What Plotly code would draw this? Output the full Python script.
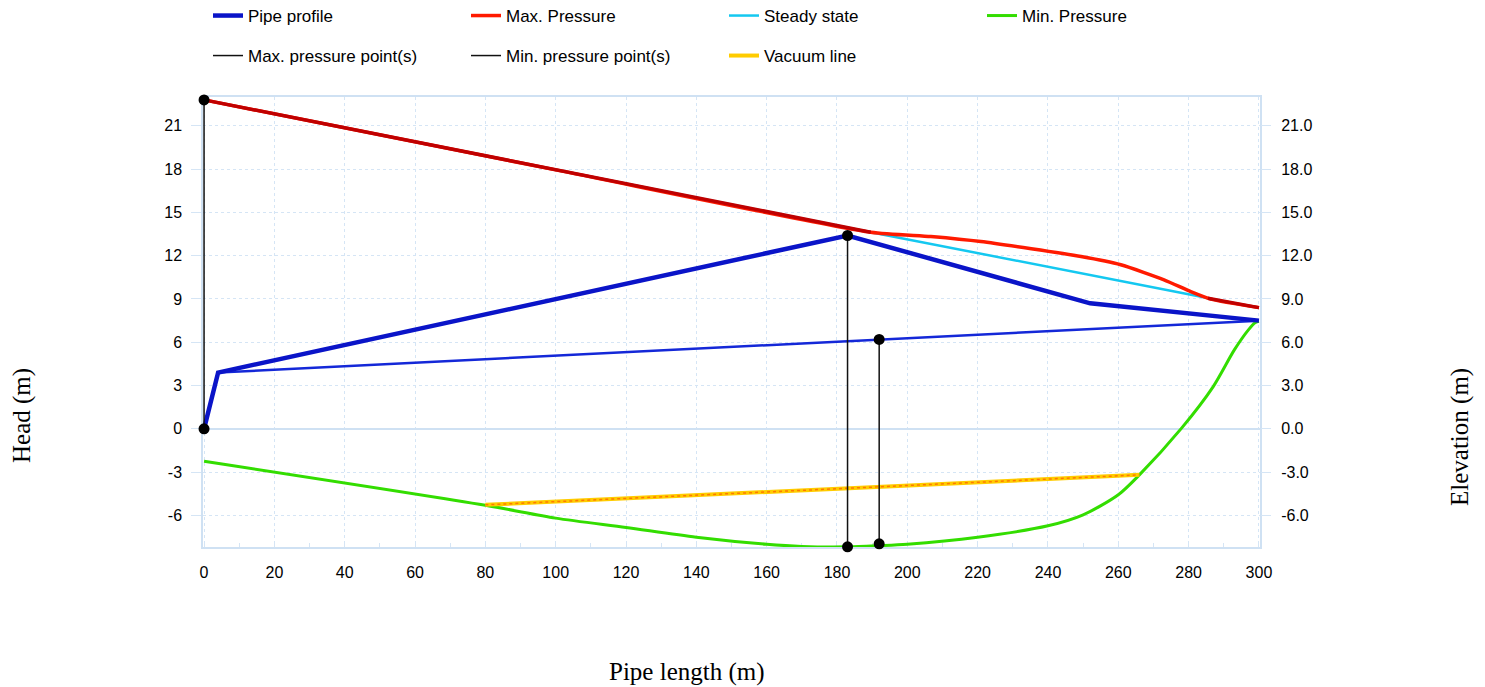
import plotly.graph_objects as go

# ---------------- data ----------------
pipe_x = [0, 4, 183, 252, 300]
pipe_y = [0.0, 3.9, 13.4, 8.7, 7.5]

pipe2_x = [4, 192, 300]
pipe2_y = [3.9, 6.2, 7.5]

maxp_x = [0, 100, 189.6, 206.7, 220.9, 249.4, 260.7, 273.0, 280.6, 286.3, 300]
maxp_y = [22.8, 17.95, 13.63, 13.33, 12.98, 11.94, 11.37, 10.33, 9.51, 8.99, 8.4]

steady_x = [0, 189.6, 284.3, 286.3, 300]
steady_y = [22.8, 13.63, 9.12, 8.99, 8.4]

# portions where steady state and max pressure coincide
overlap_x = [0, 189.6, None, 285.5, 300]
overlap_y = [22.8, 13.63, None, 9.05, 8.4]

minp_x = [0, 80, 100, 120, 140, 160, 170, 183, 192, 200, 220, 240, 250, 260, 266, 278, 287, 293, 297, 299, 300]
minp_y = [-2.25, -5.3, -6.19, -6.84, -7.51, -8.0, -8.15, -8.18, -8.1, -8.0, -7.51, -6.72, -5.96, -4.57, -3.19, 0.05, 2.93, 5.47, 6.86, 7.37, 7.45]

vac_x = [80, 183, 266]
vac_y = [-5.27, -4.1, -3.19]

maxpt_x = [0, 0]
maxpt_y = [22.8, 0.0]

minpt_x = [183, 183, None, 192, 192]
minpt_y = [13.4, -8.18, None, 6.2, -7.97]

x_ticks = list(range(0, 301, 20))
x_ticklabels = [str(v) for v in x_ticks]
y_ticks = [-6, -3, 0, 3, 6, 9, 12, 15, 18, 21]
y_left_labels = ["-6", "-3", "0", "3", "6", "9", "12", "15", "18", "21"]
y_right_labels = ["-6.0", "-3.0", "0.0", "3.0", "6.0", "9.0", "12.0", "15.0", "18.0", "21.0"]

# ---------------- styling ----------------
W, H = 1485, 687
OFF = 8  # page offset of the figure in the browser
L, T = 203 - OFF, 97 - OFF
PW, PH = 1057, 450
GRID = "#d5e5f5"
FRAME = "#cfe1f3"
TICKFONT = dict(family="Liberation Sans, Arial, sans-serif", size=16, color="#000000")
TITLEFONT = dict(family="Liberation Serif, Times New Roman, serif", size=25, color="#000000")
LEGFONT = dict(family="Liberation Sans, Arial, sans-serif", size=17, color="#000000")

fig = go.Figure()

fig.add_trace(go.Scatter(x=pipe2_x, y=pipe2_y, mode="lines",
                         line=dict(color="#1428d8", width=2.5), showlegend=False, hoverinfo="skip"))

fig.add_trace(go.Scatter(x=steady_x, y=steady_y, mode="lines", name="Steady state",
                         line=dict(color="#14c8f0", width=2.5), legend="legend", legendrank=3))

fig.add_trace(go.Scatter(x=maxp_x, y=maxp_y, mode="lines", name="Max. Pressure",
                         line=dict(color="#ff1a00", width=3.5, shape="spline", smoothing=0.6),
                         legend="legend", legendrank=2))

fig.add_trace(go.Scatter(x=overlap_x, y=overlap_y, mode="lines",
                         line=dict(color="#c00000", width=3.5), showlegend=False, hoverinfo="skip"))

fig.add_trace(go.Scatter(x=minp_x, y=minp_y, mode="lines", name="Min. Pressure",
                         line=dict(color="#33dd00", width=3, shape="spline", smoothing=0.8),
                         legend="legend", legendrank=4))

fig.add_trace(go.Scatter(x=vac_x, y=vac_y, mode="lines", name="Vacuum line",
                         line=dict(color="#ffcc00", width=4), legend="legend2", legendrank=3))
fig.add_trace(go.Scatter(x=vac_x, y=vac_y, mode="lines",
                         line=dict(color="#ff7a00", width=1.5, dash="dot"),
                         showlegend=False, hoverinfo="skip"))

fig.add_trace(go.Scatter(x=pipe_x, y=pipe_y, mode="lines", name="Pipe profile",
                         line=dict(color="#0a14c8", width=4.5), legend="legend", legendrank=1))

fig.add_trace(go.Scatter(x=maxpt_x, y=maxpt_y, mode="lines", name="Max. pressure point(s)",
                         line=dict(color="#111111", width=1.5), legend="legend2", legendrank=1))
fig.add_trace(go.Scatter(x=minpt_x, y=minpt_y, mode="lines", name="Min. pressure point(s)",
                         line=dict(color="#111111", width=1.5), legend="legend2", legendrank=2))
fig.add_trace(go.Scatter(x=maxpt_x + [None] + minpt_x, y=maxpt_y + [None] + minpt_y, mode="markers",
                         marker=dict(color="#000000", size=11), showlegend=False, hoverinfo="skip",
                         cliponaxis=False))

xr = [-0.3, 300.3]
yr = [-8.19, 23.0]

# invisible carrier for the right-hand (elevation) axis
fig.add_trace(go.Scatter(x=[xr[0]], y=[yr[0]], mode="markers", marker=dict(opacity=0),
                         xaxis="x2", yaxis="y2", showlegend=False, hoverinfo="skip"))

legend_common = dict(orientation="h", xref="container", yref="container",
                     x=200 / W, xanchor="left", yanchor="middle",
                     entrywidth=213, entrywidthmode="pixels", itemwidth=30,
                     font=LEGFONT, traceorder="normal", bgcolor="rgba(0,0,0,0)")

fig.update_layout(
    width=W, height=H,
    margin=dict(l=L, r=W - L - PW, t=T, b=H - T - PH, autoexpand=False),
    paper_bgcolor="white", plot_bgcolor="rgba(0,0,0,0)",
    xaxis=dict(range=xr, tickvals=x_ticks, ticktext=x_ticklabels,
               showgrid=True, gridcolor=GRID, griddash="dot", gridwidth=1,
               showline=True, linecolor=FRAME, linewidth=1.5, mirror=True,
               ticks="outside", ticklen=6, tickcolor="white", ticklabelstandoff=4,
               zeroline=False, tickfont=TICKFONT, layer="below traces",
               minor=dict(dtick=10, ticks="inside", ticklen=4, tickcolor=GRID, showgrid=False)),
    yaxis=dict(range=yr, tickvals=y_ticks, ticktext=y_left_labels,
               showgrid=True, gridcolor=GRID, griddash="dot", gridwidth=1,
               showline=True, linecolor=FRAME, linewidth=1.5, mirror=True,
               ticks="outside", ticklen=10, tickcolor=GRID, layer="below traces",
               zeroline=True, zerolinecolor=FRAME, zerolinewidth=1.5,
               tickfont=TICKFONT, ticklabelstandoff=6),
    xaxis2=dict(range=xr, anchor="y2", visible=False, domain=[0, 1]),
    yaxis2=dict(range=yr, tickvals=y_ticks, ticktext=y_right_labels, anchor="x2", side="right",
                domain=[0, 1], showgrid=False, zeroline=False, showline=False,
                ticks="outside", ticklen=10, tickcolor=GRID,
                tickfont=TICKFONT, ticklabelstandoff=7),
    legend=dict(legend_common, y=1 - (16 - OFF) / H),
    legend2=dict(legend_common, y=1 - (56 - OFF) / H),
    annotations=[
        dict(text="Pipe length (m)", xref="paper", yref="paper", x=(687 - 203) / PW,
             y=-(672 - 547) / PH, xanchor="center", yanchor="middle", showarrow=False,
             font=TITLEFONT),
        dict(text="Head (m)", xref="paper", yref="paper", x=(22 - 203) / PW,
             y=(547 - 416) / PH, xanchor="center", yanchor="middle", showarrow=False,
             textangle=-90, font=TITLEFONT),
        dict(text="Elevation (m)", xref="paper", yref="paper", x=(1460 - 203) / PW,
             y=(547 - 437) / PH, xanchor="center", yanchor="middle", showarrow=False,
             textangle=-90, font=TITLEFONT),
    ],
    showlegend=True,
)

fig.write_html("out.html")
